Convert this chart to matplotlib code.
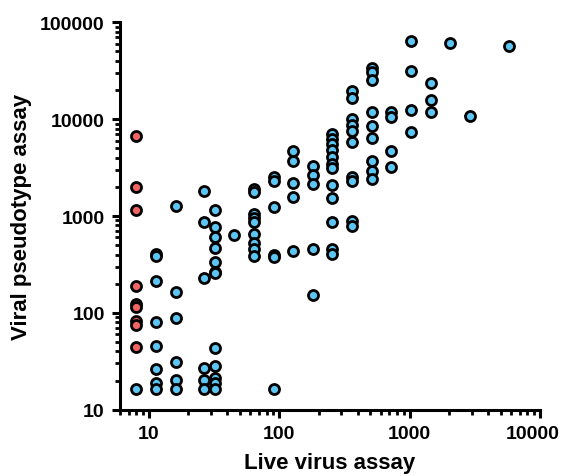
import matplotlib
matplotlib.use("Agg")
import matplotlib.pyplot as plt
import matplotlib.transforms as mtransforms
from matplotlib.ticker import FixedLocator, FuncFormatter, NullFormatter
import numpy as np

plt.rcParams['font.family'] = ['Liberation Sans', 'DejaVu Sans']
plt.rcParams['font.weight'] = 'bold'

# ---- data ----
red_x = [8, 8, 8, 8, 8, 8, 8, 8, 8]
red_y = [6700, 1980, 1160, 190, 123, 116, 83, 75, 44]

blue_cols = [8, 11.3, 16, 26.5, 32, 45, 64, 90.5, 128, 181, 256, 362, 512, 724, 1024, 1448, 2048, 2896, 5793]
blue_vals = [
    [16.4],
    [410, 390, 215, 81, 45, 26.5, 19, 16.4],
    [1280, 164, 88, 31, 20.5, 16.4],
    [1800, 877, 229, 26.7, 20.5, 16.4],
    [1160, 764, 603, 468, 339, 267, 256, 43.4, 28.5, 21.2, 18.9, 16.4],
    [641],
    [1900, 1757, 1050, 953, 867, 652, 532, 456, 386],
    [2510, 2310, 1250, 395, 375, 16.4],
    [4740, 3700, 2180, 1580, 436],
    [3300, 2680, 2140, 453, 153],
    [7030, 6310, 5540, 4750, 4065, 3443, 3094, 2090, 1524, 867, 456, 405],
    [19680, 16420, 10050, 8710, 7550, 5770, 2510, 2300, 893, 794],
    [33730, 30460, 25560, 11990, 8550, 6425, 3700, 2917, 2385],
    [11780, 10450, 4690, 3185],
    [64570, 31190, 12530, 7360],
    [23610, 15880, 11780],
    [60700],
    [10790],
    [57300],
]

x_major = [10, 100, 1000, 10000]
y_major = [10, 100, 1000, 10000, 100000]
x_label = "Live virus assay"
y_label = "Viral pseudotype assay"

blue_x = [c for c, vals in zip(blue_cols, blue_vals) for _ in vals]
blue_y = [v for vals in blue_vals for v in vals]

fig = plt.figure(figsize=(5.65, 4.77), dpi=100)
ax = fig.add_axes([120/565, 1 - 410.7/477, 420/565, (410.7 - 23.3)/477])

ms = 52
ax.scatter(blue_x, blue_y, s=ms, c='#5BC6F4', edgecolors='black', linewidths=2.0, zorder=3, clip_on=False)
ax.scatter(red_x, red_y, s=ms, c='#F26464', edgecolors='black', linewidths=2.0, zorder=3, clip_on=False)

ax.set_xscale('log')
ax.set_yscale('log')
ax.set_xlim(6, 10000)
ax.set_ylim(10, 100000)

xminor = [m * 10**e for e in range(0, 4) for m in range(2, 10) if 6 <= m * 10**e <= 10000]
yminor = [m * 10**e for e in range(1, 5) for m in range(2, 10)]
ax.xaxis.set_major_locator(FixedLocator(x_major))
ax.xaxis.set_minor_locator(FixedLocator(xminor))
ax.yaxis.set_major_locator(FixedLocator(y_major))
ax.yaxis.set_minor_locator(FixedLocator(yminor))
fmt = FuncFormatter(lambda v, p: f"{int(round(v))}")
ax.xaxis.set_major_formatter(fmt)
ax.yaxis.set_major_formatter(fmt)
ax.xaxis.set_minor_formatter(NullFormatter())
ax.yaxis.set_minor_formatter(NullFormatter())

for s in ['top', 'right']:
    ax.spines[s].set_visible(False)
for s in ['left', 'bottom']:
    ax.spines[s].set_linewidth(2.2)
    ax.spines[s].set_capstyle('projecting')

ax.tick_params(which='major', length=6, width=2.2, labelsize=14, pad=5)
ax.tick_params(which='minor', length=3.5, width=2.0)
xt = ax.get_xticklabels()
for lab in xt + ax.get_yticklabels():
    lab.set_fontweight('bold')
# nudge the last x tick label so it stays inside the figure
last = xt[-1]
last.set_transform(last.get_transform() + mtransforms.ScaledTranslation(-5/72, 0, fig.dpi_scale_trans))

ax.set_xlabel(x_label, fontsize=16, fontweight='bold', labelpad=7)
ax.set_ylabel(y_label, fontsize=16, fontweight='bold', labelpad=6)

fig.savefig("out.png", dpi=100)
